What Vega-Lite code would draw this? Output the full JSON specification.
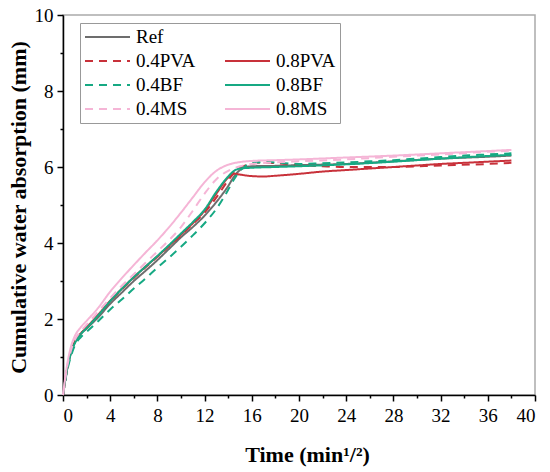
{
  "$schema": "https://vega.github.io/schema/vega-lite/v6.json",
  "width": 472,
  "height": 380,
  "autosize": {"type": "none"},
  "padding": {"left": 63, "top": 15, "right": 15, "bottom": 77},
  "background": "white",
  "data": {
    "values": [
      {"s": "Ref", "t": 0, "v": 0}, {"s": "Ref", "t": 0.3, "v": 0.6}, {"s": "Ref", "t": 0.7, "v": 1.15}, {"s": "Ref", "t": 1, "v": 1.38},
      {"s": "Ref", "t": 1.5, "v": 1.6}, {"s": "Ref", "t": 2, "v": 1.75}, {"s": "Ref", "t": 3, "v": 2.05}, {"s": "Ref", "t": 4, "v": 2.4},
      {"s": "Ref", "t": 5, "v": 2.7}, {"s": "Ref", "t": 6, "v": 3.0}, {"s": "Ref", "t": 7, "v": 3.27}, {"s": "Ref", "t": 8, "v": 3.55},
      {"s": "Ref", "t": 9, "v": 3.85}, {"s": "Ref", "t": 10, "v": 4.15}, {"s": "Ref", "t": 11, "v": 4.42}, {"s": "Ref", "t": 12, "v": 4.72},
      {"s": "Ref", "t": 13, "v": 5.08}, {"s": "Ref", "t": 14, "v": 5.5}, {"s": "Ref", "t": 14.5, "v": 5.75}, {"s": "Ref", "t": 15, "v": 5.92},
      {"s": "Ref", "t": 15.5, "v": 6.0}, {"s": "Ref", "t": 16, "v": 6.02}, {"s": "Ref", "t": 18, "v": 6.03}, {"s": "Ref", "t": 20, "v": 6.05},
      {"s": "Ref", "t": 24, "v": 6.08}, {"s": "Ref", "t": 28, "v": 6.15}, {"s": "Ref", "t": 32, "v": 6.22}, {"s": "Ref", "t": 36, "v": 6.27},
      {"s": "Ref", "t": 38, "v": 6.3},

      {"s": "0.4PVA", "t": 0, "v": 0}, {"s": "0.4PVA", "t": 0.3, "v": 0.6}, {"s": "0.4PVA", "t": 0.7, "v": 1.14}, {"s": "0.4PVA", "t": 1, "v": 1.38},
      {"s": "0.4PVA", "t": 1.5, "v": 1.6}, {"s": "0.4PVA", "t": 2, "v": 1.76}, {"s": "0.4PVA", "t": 3, "v": 2.1}, {"s": "0.4PVA", "t": 4, "v": 2.46},
      {"s": "0.4PVA", "t": 5, "v": 2.78}, {"s": "0.4PVA", "t": 6, "v": 3.08}, {"s": "0.4PVA", "t": 7, "v": 3.36}, {"s": "0.4PVA", "t": 8, "v": 3.64},
      {"s": "0.4PVA", "t": 9, "v": 3.92}, {"s": "0.4PVA", "t": 10, "v": 4.2}, {"s": "0.4PVA", "t": 11, "v": 4.5}, {"s": "0.4PVA", "t": 12, "v": 4.8},
      {"s": "0.4PVA", "t": 13, "v": 5.2}, {"s": "0.4PVA", "t": 14, "v": 5.65}, {"s": "0.4PVA", "t": 14.5, "v": 5.85}, {"s": "0.4PVA", "t": 15, "v": 5.98},
      {"s": "0.4PVA", "t": 16, "v": 6.08}, {"s": "0.4PVA", "t": 17, "v": 6.12}, {"s": "0.4PVA", "t": 18, "v": 6.1}, {"s": "0.4PVA", "t": 20, "v": 6.05},
      {"s": "0.4PVA", "t": 22, "v": 6.02}, {"s": "0.4PVA", "t": 24, "v": 6.0}, {"s": "0.4PVA", "t": 28, "v": 6.0}, {"s": "0.4PVA", "t": 32, "v": 6.04},
      {"s": "0.4PVA", "t": 36, "v": 6.08}, {"s": "0.4PVA", "t": 38, "v": 6.11},

      {"s": "0.8PVA", "t": 0, "v": 0}, {"s": "0.8PVA", "t": 0.3, "v": 0.6}, {"s": "0.8PVA", "t": 0.7, "v": 1.15}, {"s": "0.8PVA", "t": 1, "v": 1.4},
      {"s": "0.8PVA", "t": 1.5, "v": 1.62}, {"s": "0.8PVA", "t": 2, "v": 1.78}, {"s": "0.8PVA", "t": 3, "v": 2.12}, {"s": "0.8PVA", "t": 4, "v": 2.48},
      {"s": "0.8PVA", "t": 5, "v": 2.8}, {"s": "0.8PVA", "t": 6, "v": 3.1}, {"s": "0.8PVA", "t": 7, "v": 3.38}, {"s": "0.8PVA", "t": 8, "v": 3.65},
      {"s": "0.8PVA", "t": 9, "v": 3.93}, {"s": "0.8PVA", "t": 10, "v": 4.22}, {"s": "0.8PVA", "t": 11, "v": 4.52}, {"s": "0.8PVA", "t": 12, "v": 4.85},
      {"s": "0.8PVA", "t": 13, "v": 5.3}, {"s": "0.8PVA", "t": 14, "v": 5.72}, {"s": "0.8PVA", "t": 14.5, "v": 5.82}, {"s": "0.8PVA", "t": 15, "v": 5.8},
      {"s": "0.8PVA", "t": 16, "v": 5.76}, {"s": "0.8PVA", "t": 17, "v": 5.75}, {"s": "0.8PVA", "t": 18, "v": 5.77}, {"s": "0.8PVA", "t": 20, "v": 5.82},
      {"s": "0.8PVA", "t": 22, "v": 5.88}, {"s": "0.8PVA", "t": 24, "v": 5.92}, {"s": "0.8PVA", "t": 26, "v": 5.96}, {"s": "0.8PVA", "t": 28, "v": 6.0},
      {"s": "0.8PVA", "t": 30, "v": 6.04}, {"s": "0.8PVA", "t": 32, "v": 6.08}, {"s": "0.8PVA", "t": 34, "v": 6.11}, {"s": "0.8PVA", "t": 36, "v": 6.14},
      {"s": "0.8PVA", "t": 38, "v": 6.17},

      {"s": "0.4BF", "t": 0, "v": 0}, {"s": "0.4BF", "t": 0.3, "v": 0.55}, {"s": "0.4BF", "t": 0.7, "v": 1.05}, {"s": "0.4BF", "t": 1, "v": 1.3},
      {"s": "0.4BF", "t": 1.5, "v": 1.52}, {"s": "0.4BF", "t": 2, "v": 1.66}, {"s": "0.4BF", "t": 3, "v": 1.95}, {"s": "0.4BF", "t": 4, "v": 2.25},
      {"s": "0.4BF", "t": 5, "v": 2.52}, {"s": "0.4BF", "t": 6, "v": 2.8}, {"s": "0.4BF", "t": 7, "v": 3.07}, {"s": "0.4BF", "t": 8, "v": 3.35},
      {"s": "0.4BF", "t": 9, "v": 3.62}, {"s": "0.4BF", "t": 10, "v": 3.9}, {"s": "0.4BF", "t": 11, "v": 4.2}, {"s": "0.4BF", "t": 12, "v": 4.52},
      {"s": "0.4BF", "t": 13, "v": 4.9}, {"s": "0.4BF", "t": 14, "v": 5.4}, {"s": "0.4BF", "t": 14.5, "v": 5.68}, {"s": "0.4BF", "t": 15, "v": 5.9},
      {"s": "0.4BF", "t": 15.5, "v": 6.03}, {"s": "0.4BF", "t": 16, "v": 6.1}, {"s": "0.4BF", "t": 17, "v": 6.13}, {"s": "0.4BF", "t": 18, "v": 6.12},
      {"s": "0.4BF", "t": 20, "v": 6.08}, {"s": "0.4BF", "t": 22, "v": 6.1}, {"s": "0.4BF", "t": 24, "v": 6.12}, {"s": "0.4BF", "t": 26, "v": 6.15},
      {"s": "0.4BF", "t": 28, "v": 6.18}, {"s": "0.4BF", "t": 30, "v": 6.22}, {"s": "0.4BF", "t": 32, "v": 6.26}, {"s": "0.4BF", "t": 34, "v": 6.3},
      {"s": "0.4BF", "t": 36, "v": 6.33}, {"s": "0.4BF", "t": 38, "v": 6.36},

      {"s": "0.8BF", "t": 0, "v": 0}, {"s": "0.8BF", "t": 0.3, "v": 0.6}, {"s": "0.8BF", "t": 0.7, "v": 1.12}, {"s": "0.8BF", "t": 1, "v": 1.36},
      {"s": "0.8BF", "t": 1.5, "v": 1.6}, {"s": "0.8BF", "t": 2, "v": 1.76}, {"s": "0.8BF", "t": 3, "v": 2.1}, {"s": "0.8BF", "t": 4, "v": 2.47},
      {"s": "0.8BF", "t": 5, "v": 2.8}, {"s": "0.8BF", "t": 6, "v": 3.1}, {"s": "0.8BF", "t": 7, "v": 3.38}, {"s": "0.8BF", "t": 8, "v": 3.66},
      {"s": "0.8BF", "t": 9, "v": 3.95}, {"s": "0.8BF", "t": 10, "v": 4.25}, {"s": "0.8BF", "t": 11, "v": 4.55}, {"s": "0.8BF", "t": 12, "v": 4.88},
      {"s": "0.8BF", "t": 13, "v": 5.35}, {"s": "0.8BF", "t": 14, "v": 5.75}, {"s": "0.8BF", "t": 14.5, "v": 5.9}, {"s": "0.8BF", "t": 15, "v": 5.96},
      {"s": "0.8BF", "t": 16, "v": 5.98}, {"s": "0.8BF", "t": 18, "v": 6.0}, {"s": "0.8BF", "t": 20, "v": 6.02}, {"s": "0.8BF", "t": 24, "v": 6.07},
      {"s": "0.8BF", "t": 28, "v": 6.14}, {"s": "0.8BF", "t": 32, "v": 6.22}, {"s": "0.8BF", "t": 36, "v": 6.29}, {"s": "0.8BF", "t": 38, "v": 6.32},

      {"s": "0.4MS", "t": 0, "v": 0}, {"s": "0.4MS", "t": 0.3, "v": 0.65}, {"s": "0.4MS", "t": 0.7, "v": 1.2}, {"s": "0.4MS", "t": 1, "v": 1.45},
      {"s": "0.4MS", "t": 1.5, "v": 1.68}, {"s": "0.4MS", "t": 2, "v": 1.85}, {"s": "0.4MS", "t": 3, "v": 2.2}, {"s": "0.4MS", "t": 4, "v": 2.55},
      {"s": "0.4MS", "t": 5, "v": 2.88}, {"s": "0.4MS", "t": 6, "v": 3.18}, {"s": "0.4MS", "t": 7, "v": 3.48}, {"s": "0.4MS", "t": 8, "v": 3.78},
      {"s": "0.4MS", "t": 9, "v": 4.08}, {"s": "0.4MS", "t": 10, "v": 4.42}, {"s": "0.4MS", "t": 11, "v": 4.85}, {"s": "0.4MS", "t": 12, "v": 5.3},
      {"s": "0.4MS", "t": 13, "v": 5.68}, {"s": "0.4MS", "t": 14, "v": 5.9}, {"s": "0.4MS", "t": 15, "v": 6.02}, {"s": "0.4MS", "t": 16, "v": 6.08},
      {"s": "0.4MS", "t": 18, "v": 6.12}, {"s": "0.4MS", "t": 20, "v": 6.15}, {"s": "0.4MS", "t": 24, "v": 6.2}, {"s": "0.4MS", "t": 28, "v": 6.27},
      {"s": "0.4MS", "t": 32, "v": 6.33}, {"s": "0.4MS", "t": 36, "v": 6.4}, {"s": "0.4MS", "t": 38, "v": 6.43},

      {"s": "0.8MS", "t": 0, "v": 0}, {"s": "0.8MS", "t": 0.3, "v": 0.7}, {"s": "0.8MS", "t": 0.7, "v": 1.3}, {"s": "0.8MS", "t": 1, "v": 1.55},
      {"s": "0.8MS", "t": 1.5, "v": 1.78}, {"s": "0.8MS", "t": 2, "v": 1.95}, {"s": "0.8MS", "t": 3, "v": 2.3}, {"s": "0.8MS", "t": 4, "v": 2.72},
      {"s": "0.8MS", "t": 5, "v": 3.08}, {"s": "0.8MS", "t": 6, "v": 3.42}, {"s": "0.8MS", "t": 7, "v": 3.75}, {"s": "0.8MS", "t": 8, "v": 4.07},
      {"s": "0.8MS", "t": 9, "v": 4.42}, {"s": "0.8MS", "t": 10, "v": 4.8}, {"s": "0.8MS", "t": 11, "v": 5.2}, {"s": "0.8MS", "t": 12, "v": 5.6},
      {"s": "0.8MS", "t": 13, "v": 5.9}, {"s": "0.8MS", "t": 14, "v": 6.06}, {"s": "0.8MS", "t": 15, "v": 6.13}, {"s": "0.8MS", "t": 16, "v": 6.16},
      {"s": "0.8MS", "t": 18, "v": 6.18}, {"s": "0.8MS", "t": 20, "v": 6.2}, {"s": "0.8MS", "t": 24, "v": 6.25}, {"s": "0.8MS", "t": 28, "v": 6.3},
      {"s": "0.8MS", "t": 32, "v": 6.36}, {"s": "0.8MS", "t": 36, "v": 6.42}, {"s": "0.8MS", "t": 38, "v": 6.45}
    ]
  },
  "mark": {"type": "line", "strokeWidth": 2, "interpolate": "monotone"},
  "encoding": {
    "x": {
      "field": "t",
      "type": "quantitative",
      "scale": {"domain": [0, 40], "nice": false},
      "axis": {
        "title": "Time (min¹/²)",
        "values": [0, 2, 4, 6, 8, 10, 12, 14, 16, 18, 20, 22, 24, 26, 28, 30, 32, 34, 36, 38, 40],
        "labelExpr": "datum.value % 4 === 0 ? datum.label : ''",
        "labelOverlap": false,
        "labelFont": "Liberation Serif",
        "titleFont": "Liberation Serif",
        "tickSize": {"condition": {"test": "datum.value % 4 === 0", "value": 6}, "value": 3},
        "labelPadding": 5,
        "titleX": 244,
        "titleY": 66,
        "titleBaseline": "alphabetic"
      }
    },
    "y": {
      "field": "v",
      "type": "quantitative",
      "scale": {"domain": [0, 10], "nice": false},
      "axis": {
        "title": "Cumulative water absorption (mm)",
        "values": [0, 1, 2, 3, 4, 5, 6, 7, 8, 9, 10],
        "labelExpr": "datum.value % 2 === 0 ? datum.label : ''",
        "labelOverlap": false,
        "labelFont": "Liberation Serif",
        "titleFont": "Liberation Serif",
        "tickSize": {"condition": {"test": "datum.value % 2 === 0", "value": 6}, "value": 3},
        "labelPadding": 4,
        "titleX": -45,
        "titleY": 192,
        "titleAlign": "center",
        "titleBaseline": "middle"
      }
    },
    "color": {
      "field": "s",
      "type": "nominal",
      "scale": {
        "domain": ["Ref", "0.4PVA", "0.4BF", "0.4MS", " ", "0.8PVA", "0.8BF", "0.8MS"],
        "range": ["#6d6d6d", "#c8313a", "#16a983", "#f5b5d6", "rgba(0,0,0,0)", "#c8313a", "#16a983", "#f5b5d6"]
      },
      "legend": {"title": null}
    },
    "strokeDash": {
      "field": "s",
      "type": "nominal",
      "scale": {
        "domain": ["Ref", "0.4PVA", "0.4BF", "0.4MS", " ", "0.8PVA", "0.8BF", "0.8MS"],
        "range": [[1, 0], [8, 6], [8, 6], [8, 6], [1, 0], [1, 0], [1, 0], [1, 0]]
      },
      "legend": {"title": null}
    }
  },
  "config": {
    "font": "Liberation Serif",
    "view": {"stroke": "#aaaaaa", "strokeWidth": 1.5},
    "axis": {
      "grid": false,
      "domainColor": "black",
      "domainWidth": 1.5,
      "tickColor": "black",
      "tickWidth": 1.5,
      "labelFontSize": 19,
      "labelColor": "black",
      "titleFontSize": 22,
      "titleFontWeight": "bold",
      "titleColor": "black"
    },
    "legend": {
      "orient": "none",
      "legendX": 17,
      "legendY": 8,
      "columns": 2,
      "columnPadding": 28,
      "rowPadding": 4,
      "clipHeight": 20,
      "padding": 4,
      "strokeColor": "#999999",
      "symbolType": "stroke",
      "symbolSize": 2025,
      "symbolStrokeWidth": 2,
      "labelFont": "Liberation Serif",
      "labelFontSize": 19,
      "labelColor": "black",
      "labelOffset": 5
    }
  }
}
